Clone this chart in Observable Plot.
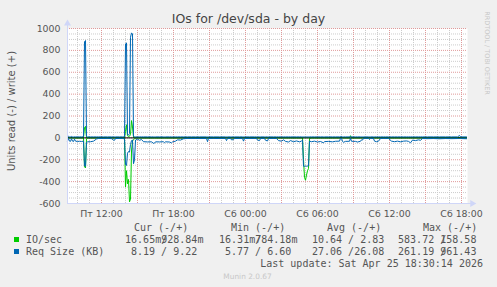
<!DOCTYPE html>
<html><head><meta charset="utf-8">
<script src="https://cdn.jsdelivr.net/npm/d3@7"></script>
<script src="https://cdn.jsdelivr.net/npm/@observablehq/plot@0.6"></script>
<style>
html,body{margin:0;padding:0;background:#F0F0F0;}
#wrap{position:relative;width:497px;height:287px;background:#F0F0F0;overflow:hidden;font-family:"DejaVu Sans",sans-serif;color:#555;}
#chart{position:absolute;left:0;top:0;}
#over{position:absolute;left:0;top:0;pointer-events:none;}
#over text{white-space:pre;}
</style></head><body><div id="wrap"><div id="chart"></div></div>
<script>
// ---- data (5-minute slots since Fri 09:10) ----
const slots = [
 0,1,2,3,4,5,6,7,8,10, 12,14,16,17,18,19,20,23,26,29, 31,36,40,44,46,47,48,52,55,57,
 58,59,60,61,62,63,64,65,66,67, 68,70,72,74,76,80,84,86,87,88, 92,96,97,98,102,104,105,108,110,113,
 116,120,124,128,132,139,140,141,146,152, 158,159,160,163,164,166,167,172,175,176, 177,182,187,189,190,192,193,197,198,200,
 201,206,209,211,214,216,218,221,223,226, 229,232,234,235,236,237,238,239,240,241, 242,244,247,250,253,256,257,261,265,268,
 272,273,274,275,276,278,282,283,284,288, 290,293,294,295,296,298,301,302,303,306, 307,309,311,313,316,318,321,324,327,330,
 333,336,339,341,343,345,348,351,353,355, 360,366,372,378,384,390,392,393,399];
// IO/sec read (plotted negative) and write (plotted positive)
const ioRead = [
 0.3,0.5,0.3,0.2,0.4,0.3,0.3,0.5,0.3,0.2, 0.3,0.4,0.5,265,275,10,0.5,0.3,0.4,0.2, 0.3,0.2,0.3,0.4,0.3,0.2,0.3,0.3,0.4,0.6,
 450,300,420,380,585,560,120,30,15,8, 2,0.5,0.4,0.3,0.3,0.2,0.3,0.4,0.3,0.3, 0.3,0.2,0.4,0.3,0.3,0.2,0.3,0.3,0.4,0.3,
 0.3,0.2,0.3,0.3,0.4,0.2,0.3,0.3,0.2,0.3, 0.3,0.4,0.3,0.2,0.3,0.3,0.2,0.3,0.3,0.4, 0.3,0.2,0.3,0.3,0.3,0.4,0.3,0.2,0.3,0.3,
 0.2,0.3,0.3,0.4,0.3,0.3,0.2,0.3,0.3,0.4, 0.3,0.3,0.4,0.6,200,360,387,340,300,280, 5,0.4,0.3,0.3,0.2,0.3,0.3,0.4,0.3,0.3,
 0.2,0.3,0.3,0.3,0.4,0.3,0.3,10,0.3,0.2, 0.3,0.3,0.2,0.3,0.3,0.4,0.3,0.3,0.2,0.3, 0.3,0.4,0.3,0.3,0.2,0.3,0.3,0.3,0.4,0.3,
 0.3,0.2,0.3,0.3,0.4,0.3,0.3,0.2,0.3,0.3, 0.2,0.3,0.3,0.2,0.3,0.3,0.2,0.3,0.02];
const ioWrite = [
 0.9,1.1,0.9,0.8,1.2,0.9,0.9,1.0,0.9,0.8, 0.9,1.0,1.2,95,105,3,1.0,0.9,0.9,0.8, 0.9,0.8,0.9,1.0,0.9,0.8,0.9,0.9,1.0,1.2,
 60,120,20,10,15,30,158,100,5,2, 1.1,0.9,0.9,0.8,0.9,0.9,0.8,0.9,1.0,0.9, 0.9,0.8,0.9,0.9,1.0,0.9,0.8,0.9,0.9,1.0,
 0.9,0.8,0.9,0.9,1.0,0.8,0.9,0.9,0.8,0.9, 0.9,1.0,0.9,0.8,0.9,0.9,0.8,0.9,0.9,1.0, 0.9,0.8,0.9,0.9,0.9,1.0,0.9,0.8,0.9,0.9,
 0.8,0.9,0.9,1.0,0.9,0.9,0.8,0.9,0.9,1.0, 0.9,0.9,1.0,1.1,1.2,1.0,0.9,0.9,1.0,1.1, 1.2,0.9,0.9,0.8,0.9,0.9,0.8,0.9,1.0,0.9,
 0.8,1.1,1.0,0.9,0.9,0.8,0.9,20,0.9,0.8, 0.9,0.9,0.8,0.9,0.9,1.0,0.9,0.9,0.8,0.9, 0.9,1.0,0.9,0.9,0.8,0.9,0.9,0.9,1.0,0.9,
 0.9,0.8,0.9,0.9,1.0,0.9,0.9,0.8,0.9,0.9, 0.8,0.9,0.9,0.8,0.9,0.9,1.1,0.9,0.93];
// Req Size (KB) read (plotted negative) and write (plotted positive)
const reqRead = [
 28,5,30,32,8,30,33,12,30,33, 31,33,30,255,262,40,36,35,30,10, 5,6,4,7,20,22,6,5,6,8,
 245,252,140,125,130,60,25,20,236,200, 20,12,22,15,35,37,36,50,48,36, 37,35,45,36,38,46,37,30,18,20,
 8,5,6,5,6,5,35,6,5,6, 5,25,6,5,18,16,5,6,5,30, 6,5,6,5,20,25,6,5,22,28,
 6,5,6,25,30,18,32,38,25,35, 28,36,30,20,259,260,258,259,258,255, 30,35,30,38,33,45,34,32,36,31,
 30,4,3,33,40,32,31,3,31,32, 38,31,18,20,5,4,5,15,5,6, 30,35,30,6,5,6,5,30,35,30,
 36,30,28,32,45,20,25,18,22,6, 7,6,8,6,7,6,6,6,8];
const reqWrite = [
 9,14,9,9,13,9,8,10,9,9, 9,9,10,880,890,15,9,9,9,9, 9,9,9,9,9,9,9,9,9,9,
 860,868,30,25,40,920,960,950,15,10, 9,9,9,9,9,9,9,9,9,9, 9,9,9,9,9,9,9,9,9,9,
 9,9,9,9,9,9,9,9,9,9, 9,9,9,9,9,9,9,9,9,9, 9,9,9,9,9,9,9,9,9,9,
 9,9,9,9,9,9,9,9,9,9, 9,9,9,9,9,9,9,9,9,9, 9,9,9,9,9,9,9,9,9,9,
 9,12,13,9,9,9,9,12,9,9, 9,9,9,9,9,9,9,9,9,9, 9,9,9,9,9,9,9,9,9,9,
 9,9,9,9,9,9,9,9,9,9, 9,9,9,9,9,9,22,9,9];

const yTicks = [-600,-400,-200,0,200,400,600,800,1000];
const yTickLabels = ["-600","-400","-200","0","200","400","600","800","1000"];
const xTickHours = [12,18,24,30,36,42];
const xTickLabels = ["Пт 12:00","Пт 18:00","Сб 00:00","Сб 06:00","Сб 12:00","Сб 18:00"];

const seriesNames = ["IO/sec","Req Size (KB)"];
const legendHeaders = ["Cur (-/+)","Min (-/+)","Avg (-/+)","Max (-/+)"];
// [read, write] as printed (the "/" is overprinted on the first cell of the write value)
const legendCur = [["16.65m","928.84m"],[" 8.19 ","  9.22"]];
const legendMin = [["16.31m","784.18m"],[" 5.77 ","  6.60"]];
const legendAvg = [["10.64 ","  2.83"],["27.06 "," 26.08"]];
const legendMax = [["583.72 ","158.58"],["261.19 ","961.43"]];
const titleText = "IOs for /dev/sda - by day";
const yLabel = "Units read (-) / write (+)";
const lastUpdate = "Last update: Sat Apr 25 18:30:14 2026";
const footer = "Munin 2.0.67";
const watermark = "RRDTOOL / TOBI OETIKER";

// ---- build ----
const GREEN = "#00CC00", BLUE = "#0066B3";
const START = 9 + 10/60, END = START + 400*5/60;
const rows = slots.map((s,i)=>({t: START + s*5/60, ioR: -ioRead[i], ioW: ioWrite[i], rsR: -reqRead[i], rsW: reqWrite[i]}));
const yMinor = d3.range(-600, 1001, 50).filter(v => v % 200 !== 0);
const yMajor = d3.range(-600, 1001, 200);
const xMinor = d3.range(10, END, 1).filter(h => h % 3 !== 0);
const xMajor = d3.range(12, END, 3);
const xLab = new Map(xTickHours.map((h,i)=>[h, xTickLabels[i]]));
const yLab = new Map(yTicks.map((v,i)=>[v, yTickLabels[i]]));
const AX = "#CFD6F8";

const chart = Plot.plot({
  width: 497, height: 222,
  marginLeft: 67, marginRight: 30, marginTop: 28, marginBottom: 19,
  style: {background: "transparent", fontFamily: "DejaVu Sans", fontSize: "9.4px", color: "#555", overflow: "visible"},
  x: {domain: [START, END]},
  y: {domain: [-600, 1000]},
  marks: [
    Plot.frame({fill: "white", stroke: null}),
    Plot.ruleY(yMinor, {stroke: "#cccccc", strokeDasharray: "1,1"}),
    Plot.ruleX(xMinor, {stroke: "#cccccc", strokeDasharray: "1,1"}),
    Plot.ruleY(yMajor, {stroke: "#e09a9a", strokeDasharray: "1,1"}),
    Plot.ruleX(xMajor, {stroke: "#e09a9a", strokeDasharray: "1,1"}),
    Plot.line(rows, {x: "t", y: "ioR", stroke: GREEN, strokeWidth: 1}),
    Plot.line(rows, {x: "t", y: "ioW", stroke: GREEN, strokeWidth: 1}),
    Plot.ruleY([0], {stroke: "black", strokeWidth: 1}),
    Plot.line(rows, {x: "t", y: "rsR", stroke: BLUE, strokeWidth: 1}),
    Plot.line(rows, {x: "t", y: "rsW", stroke: BLUE, strokeWidth: 1}),
    Plot.ruleX([START], {y1: -600, y2: 1040, stroke: AX}),
    Plot.ruleY([-600], {x1: START, x2: END + 0.4, stroke: AX}),
    Plot.dot([[START, 1045]], {x: d=>d[0], y: d=>d[1], symbol: "triangle", r: 2.6, fill: AX, stroke: null}),
    Plot.dot([[END + 0.4, -600]], {x: d=>d[0], y: d=>d[1], symbol: "triangle", rotate: 90, r: 2.6, fill: AX, stroke: null}),
    Plot.axisY(yTicks, {tickSize: 0, tickPadding: 7, tickFormat: d => yLab.get(d), label: null}),
    Plot.axisX(xTickHours, {tickSize: 0, tickPadding: 7, tickFormat: d => xLab.get(d), label: null})
  ]
});
document.getElementById("chart").appendChild(chart);

// ---- texts around the chart (one overlay svg) ----
const svg = d3.select("#wrap").append("svg").attr("id", "over").attr("width", 497).attr("height", 287);
const SANS = "DejaVu Sans", MONO = "DejaVu Sans Mono";
const CELL = 10 * 0.60205; // monospace advance at 10px
function txt(s, x, y, fs, opts = {}) {
  const t = svg.append("text").attr("x", x).attr("y", y)
    .attr("font-family", opts.mono ? MONO : SANS).attr("font-size", fs)
    .attr("fill", opts.color || "#555").attr("text-anchor", opts.anchor || "start").text(s);
  if (opts.transform) t.attr("transform", opts.transform).attr("x", 0).attr("y", 0).attr("dy", "0.35em");
  if (opts.dx) t.attr("dx", opts.dx);
  return t;
}
txt(titleText, 248.5, 23, 12.5, {anchor: "middle", color: "#444"});
txt(yLabel, 0, 0, 10, {anchor: "middle", transform: "translate(11,111) rotate(-90)"});
txt(watermark, 0, 0, 6.5, {anchor: "middle", color: "#c8c8c8", transform: "translate(487,53) rotate(90)"});

const hx = [134, 231, 327, 423];
legendHeaders.forEach((h,i)=>txt(h, hx[i], 231, 10, {mono: true}));
const vx = [125, 219, 312, 398];
const colors = [GREEN, BLUE];
const cols = [legendCur, legendMin, legendAvg, legendMax];
seriesNames.forEach((name, r) => {
  const base = 243 + r * 12;
  svg.append("rect").attr("x", 14).attr("y", base - 6).attr("width", 5).attr("height", 5).attr("fill", colors[r]);
  txt(name, 26, base, 10, {mono: true});
  cols.forEach((c, j) => {
    const [a, b] = c[r];
    if (b[0] === " ") {
      txt(a + "/" + b.slice(1), vx[j], base, 10, {mono: true});
    } else {
      // "/" then the write value pulled back one cell so its first digit is overprinted
      const s = a + "/" + b;
      const dx = Array.from(s, (ch, k) => k === a.length + 1 ? -CELL : 0).join(" ");
      txt(s, vx[j], base, 10, {mono: true, dx});
    }
  });
});
txt(lastUpdate, 483, 267, 10, {mono: true, anchor: "end"});
txt(footer, 247.5, 279, 7.4, {anchor: "middle", color: "#c8c8c8"});
</script></body></html>
